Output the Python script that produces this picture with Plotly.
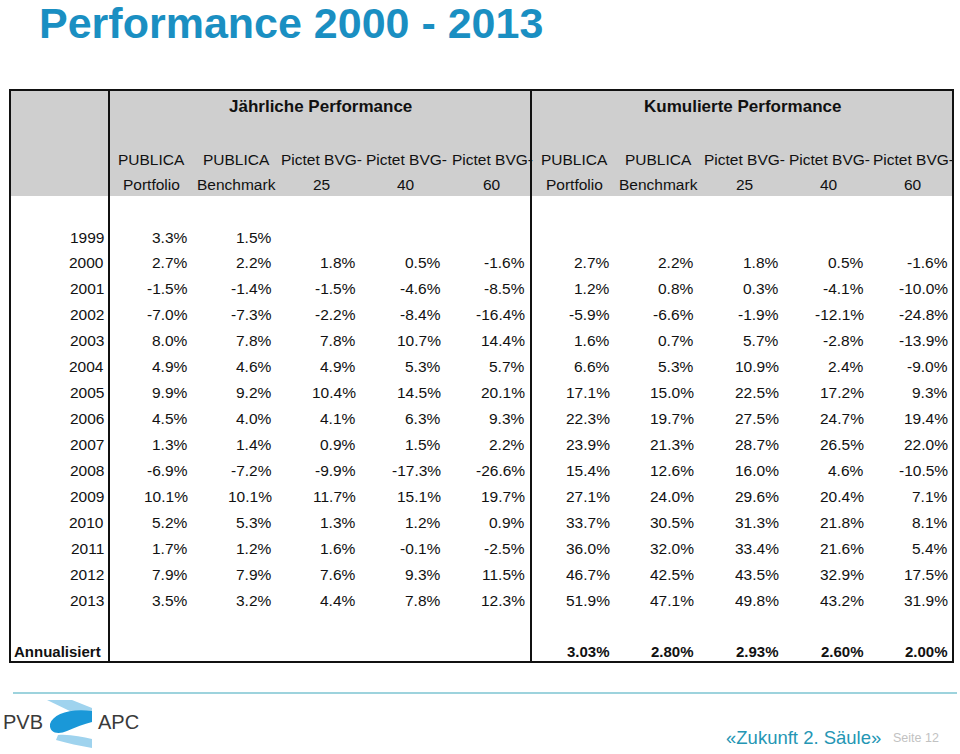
import plotly.graph_objects as go

# ---------------- data ----------------
years = [1999, 2000, 2001, 2002, 2003, 2004, 2005, 2006, 2007, 2008, 2009, 2010, 2011, 2012, 2013]

annual_portfolio = [3.3, 2.7, -1.5, -7.0, 8.0, 4.9, 9.9, 4.5, 1.3, -6.9, 10.1, 5.2, 1.7, 7.9, 3.5]
annual_benchmark = [1.5, 2.2, -1.4, -7.3, 7.8, 4.6, 9.2, 4.0, 1.4, -7.2, 10.1, 5.3, 1.2, 7.9, 3.2]
annual_bvg25 = [None, 1.8, -1.5, -2.2, 7.8, 4.9, 10.4, 4.1, 0.9, -9.9, 11.7, 1.3, 1.6, 7.6, 4.4]
annual_bvg40 = [None, 0.5, -4.6, -8.4, 10.7, 5.3, 14.5, 6.3, 1.5, -17.3, 15.1, 1.2, -0.1, 9.3, 7.8]
annual_bvg60 = [None, -1.6, -8.5, -16.4, 14.4, 5.7, 20.1, 9.3, 2.2, -26.6, 19.7, 0.9, -2.5, 11.5, 12.3]

cum_portfolio = [None, 2.7, 1.2, -5.9, 1.6, 6.6, 17.1, 22.3, 23.9, 15.4, 27.1, 33.7, 36.0, 46.7, 51.9]
cum_benchmark = [None, 2.2, 0.8, -6.6, 0.7, 5.3, 15.0, 19.7, 21.3, 12.6, 24.0, 30.5, 32.0, 42.5, 47.1]
cum_bvg25 = [None, 1.8, 0.3, -1.9, 5.7, 10.9, 22.5, 27.5, 28.7, 16.0, 29.6, 31.3, 33.4, 43.5, 49.8]
cum_bvg40 = [None, 0.5, -4.1, -12.1, -2.8, 2.4, 17.2, 24.7, 26.5, 4.6, 20.4, 21.8, 21.6, 32.9, 43.2]
cum_bvg60 = [None, -1.6, -10.0, -24.8, -13.9, -9.0, 9.3, 19.4, 22.0, -10.5, 7.1, 8.1, 5.4, 17.5, 31.9]

annualised_cum = [3.03, 2.80, 2.93, 2.60, 2.00]

col_headers_1 = ["PUBLICA", "PUBLICA", "Pictet BVG-", "Pictet BVG-", "Pictet BVG-"]
col_headers_2 = ["Portfolio", "Benchmark", "25", "40", "60"]

title = "Performance 2000 - 2013"
group_titles = ["Jährliche Performance", "Kumulierte Performance"]
annual_label = "Annualisiert"

# ---------------- layout geometry ----------------
W, H = 960, 754
FONT = "Liberation Sans, Arial, sans-serif"
BLACK = "#111111"
BODY = 15.5

tbl_left, tbl_right, tbl_top, tbl_bottom = 10, 953, 90, 662
header_bottom = 196
div1, div2 = 109, 531
row0_y, row_h = 237, 25.95
year_right = 106
annual_cols_right = [190, 274, 358, 443, 527]
cum_cols_right = [612, 696, 781, 866, 950]
annual_hdr_center = [151, 236, 321, 406, 492]
cum_hdr_center = [574, 658, 744, 829, 913]
annual_row_y = 651

fig = go.Figure()
ann = []
shapes = []

# header background
shapes.append(dict(type="rect", x0=tbl_left, x1=tbl_right, y0=tbl_top, y1=header_bottom,
                   fillcolor="#cfcfcf", line=dict(width=0), layer="below"))
# borders
shapes.append(dict(type="rect", x0=tbl_left, x1=tbl_right, y0=tbl_top, y1=tbl_bottom,
                   line=dict(color=BLACK, width=2)))
for xd in (div1, div2):
    shapes.append(dict(type="line", x0=xd, x1=xd, y0=tbl_top, y1=tbl_bottom,
                       line=dict(color=BLACK, width=2)))

def txt(x, y, s, size=BODY, color=BLACK, xanchor="right", bold=False):
    if bold:
        s = "<b>" + s + "</b>"
    ann.append(dict(x=x, y=y, xref="x", yref="y", text=s, showarrow=False,
                    xanchor=xanchor, yanchor="middle",
                    font=dict(size=size, family=FONT, color=color)))

# title
txt(37, 23, title, size=43, color="#1A8FC2", xanchor="left", bold=True)

# group titles
txt(320, 106, group_titles[0], size=17, xanchor="center", bold=True)
txt(742, 106, group_titles[1], size=17, xanchor="center", bold=True)

# column headers
for centers in (annual_hdr_center, cum_hdr_center):
    for cx, h1, h2 in zip(centers, col_headers_1, col_headers_2):
        txt(cx, 159, h1, xanchor="center")
        txt(cx, 184, h2, xanchor="center")

# body
annual_series = [annual_portfolio, annual_benchmark, annual_bvg25, annual_bvg40, annual_bvg60]
cum_series = [cum_portfolio, cum_benchmark, cum_bvg25, cum_bvg40, cum_bvg60]
for i, yr in enumerate(years):
    y = row0_y + i * row_h
    txt(year_right, y, str(yr))
    for xr, ser in zip(annual_cols_right, annual_series):
        if ser[i] is not None:
            txt(xr, y, f"{ser[i]:.1f}%")
    for xr, ser in zip(cum_cols_right, cum_series):
        if ser[i] is not None:
            txt(xr, y, f"{ser[i]:.1f}%")

# annualised row
txt(12, annual_row_y, annual_label, size=15, xanchor="left", bold=True)
for xr, v in zip(cum_cols_right, annualised_cum):
    txt(xr, annual_row_y, f"{v:.2f}%", size=15, bold=True)

# footer line
shapes.append(dict(type="line", x0=13, x1=957, y0=693, y1=693,
                   line=dict(color="#7cc4d2", width=1.5)))

# footer texts
txt(883, 737, "«Zukunft 2. Säule»", size=18.5, color="#2596B4")
txt(891, 738, "Seite 12", size=12.5, color="#c2c2c2", xanchor="left")

# logo
txt(1, 722, "PVB", size=20, color="#3a3a3a", xanchor="left")
txt(96, 722, "APC", size=20, color="#3a3a3a", xanchor="left")
LIGHT = "#9fd3ee"
DARK = "#1a98d8"
shapes.append(dict(type="path", path="M 47 700 L 72 700 L 92 708 L 92 713 L 76 714 Z",
                   fillcolor=LIGHT, line=dict(width=0)))
shapes.append(dict(type="path",
                   path="M 92 711 C 70 708 53 714 50 724 C 49 733 58 735 67 731 C 76 727 84 724 92 722 Z",
                   fillcolor=DARK, line=dict(width=0)))
shapes.append(dict(type="path",
                   path="M 58 735 C 70 734 82 737 92 739 L 92 748 C 80 746 67 743 56 740 Z",
                   fillcolor=LIGHT, line=dict(width=0)))

fig.update_layout(
    width=W, height=H,
    margin=dict(l=0, r=0, t=0, b=0),
    paper_bgcolor="white", plot_bgcolor="white",
    xaxis=dict(range=[0, W], visible=False, fixedrange=True),
    yaxis=dict(range=[H, 0], visible=False, fixedrange=True),
    annotations=ann, shapes=shapes, showlegend=False,
)

fig.write_html("out.html", config={"displayModeBar": False},
               post_script="document.body.style.margin='0';document.body.style.overflow='hidden';")
